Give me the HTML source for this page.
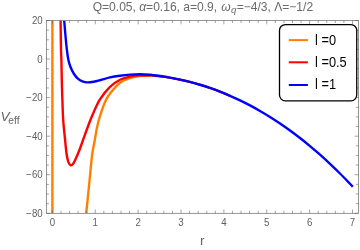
<!DOCTYPE html>
<html><head><meta charset="utf-8"><style>
html,body{margin:0;padding:0;background:#fff;}
svg{display:block;font-family:"Liberation Sans",sans-serif;will-change:transform;}
</style></head><body>
<svg width="360" height="250" viewBox="0 0 360 250">
<rect width="360" height="250" fill="#fff"/>
<defs><clipPath id="c"><rect x="46.4" y="20.5" width="312.0" height="192.8"/></clipPath></defs>
<g clip-path="url(#c)" fill="none" stroke-width="2.4" stroke-linejoin="round">
<path d="M52.4,10 L52.4,220" stroke="#ff8000"/>
<path d="M140.00,75.90 C141.67,75.85 146.67,75.50 150.00,75.60 C153.33,75.70 156.67,76.11 160.00,76.48 C163.33,76.85 166.67,77.29 170.00,77.82 C173.33,78.35 176.67,78.98 180.00,79.68 C183.33,80.38 186.67,81.16 190.00,82.01 C193.33,82.86 196.67,83.79 200.00,84.78 C203.33,85.78 206.67,86.86 210.00,88.01 C213.33,89.16 216.67,90.38 220.00,91.68 C223.33,92.98 228.33,95.11 230.00,95.80" stroke="#ff8000" stroke-width="2.1"/>
<path d="M86.20,213.30 C86.48,210.58 87.33,202.55 87.90,197.00 C88.47,191.45 88.90,187.00 89.60,180.00 C90.30,173.00 91.27,161.50 92.10,155.00 C92.93,148.50 93.77,145.67 94.60,141.00 C95.43,136.33 96.20,131.15 97.10,127.00 C98.00,122.85 98.68,120.27 100.00,116.10 C101.32,111.93 103.33,105.75 105.00,102.00 C106.67,98.25 107.50,96.82 110.00,93.60 C112.50,90.38 116.67,85.27 120.00,82.70 C123.33,80.13 126.67,79.33 130.00,78.20 C133.33,77.07 136.67,76.33 140.00,75.90 C143.33,75.47 148.33,75.65 150.00,75.60" stroke="#ff8000"/>
<path d="M140.00,75.30 C141.67,75.28 146.67,75.04 150.00,75.20 C153.33,75.36 156.67,75.85 160.00,76.27 C163.33,76.69 166.67,77.16 170.00,77.72 C173.33,78.28 176.67,78.92 180.00,79.63 C183.33,80.34 186.67,81.12 190.00,81.98 C193.33,82.84 196.67,83.77 200.00,84.77 C203.33,85.77 206.67,86.85 210.00,88.00 C213.33,89.15 216.67,90.37 220.00,91.67 C223.33,92.97 228.33,95.11 230.00,95.80" stroke="#ff0000" stroke-width="2.1"/>
<path d="M60.60,20.50 C60.67,25.42 60.87,43.42 61.00,50.00 C61.13,56.58 61.25,54.17 61.40,60.00 C61.55,65.83 61.73,78.33 61.90,85.00 C62.07,91.67 62.18,94.17 62.40,100.00 C62.62,105.83 62.73,113.17 63.20,120.00 C63.67,126.83 64.63,135.33 65.20,141.00 C65.77,146.67 66.08,150.53 66.60,154.00 C67.12,157.47 67.60,159.92 68.30,161.80 C69.00,163.68 69.92,165.07 70.80,165.30 C71.68,165.53 72.50,164.92 73.60,163.20 C74.70,161.48 76.30,157.53 77.40,155.00 C78.50,152.47 78.87,151.60 80.20,148.00 C81.53,144.40 83.70,138.07 85.40,133.40 C87.10,128.73 89.00,123.58 90.40,120.00 C91.80,116.42 92.20,115.33 93.80,111.90 C95.40,108.47 97.30,103.57 100.00,99.40 C102.70,95.23 106.67,90.17 110.00,86.90 C113.33,83.63 116.67,81.53 120.00,79.80 C123.33,78.07 126.67,77.30 130.00,76.55 C133.33,75.80 136.67,75.52 140.00,75.30 C143.33,75.08 148.33,75.22 150.00,75.20" stroke="#ff0000"/>
<path d="M64.20,20.50 C64.42,23.08 65.05,31.08 65.50,36.00 C65.95,40.92 66.42,46.00 66.90,50.00 C67.38,54.00 67.80,57.17 68.40,60.00 C69.00,62.83 69.57,64.67 70.50,67.00 C71.43,69.33 72.72,72.02 74.00,74.00 C75.28,75.98 76.80,77.68 78.20,78.90 C79.60,80.12 80.88,80.72 82.40,81.30 C83.92,81.88 85.43,82.33 87.30,82.40 C89.17,82.47 91.38,82.10 93.60,81.70 C95.82,81.30 97.87,80.72 100.60,80.00 C103.33,79.28 106.77,78.12 110.00,77.40 C113.23,76.68 116.67,76.16 120.00,75.70 C123.33,75.24 126.67,74.89 130.00,74.65 C133.33,74.41 136.67,74.24 140.00,74.25 C143.33,74.26 146.67,74.43 150.00,74.72 C153.33,75.01 156.67,75.53 160.00,76.01 C163.33,76.49 166.67,76.99 170.00,77.58 C173.33,78.17 176.67,78.82 180.00,79.55 C183.33,80.27 186.67,81.07 190.00,81.93 C193.33,82.80 196.67,83.73 200.00,84.74 C203.33,85.75 206.67,86.83 210.00,87.98 C213.33,89.13 216.67,90.36 220.00,91.66 C223.33,92.96 226.67,94.34 230.00,95.79 C233.33,97.24 236.67,98.77 240.00,100.38 C243.33,101.99 246.67,103.67 250.00,105.43 C253.33,107.20 256.67,109.04 260.00,110.97 C263.33,112.89 266.67,114.90 270.00,116.99 C273.33,119.08 276.67,121.25 280.00,123.51 C283.33,125.76 286.67,128.10 290.00,130.53 C293.33,132.95 296.67,135.46 300.00,138.06 C303.33,140.66 306.67,143.34 310.00,146.12 C313.33,148.89 316.67,151.75 320.00,154.71 C323.33,157.66 326.67,160.70 330.00,163.84 C333.33,166.97 336.67,170.20 340.00,173.52 C343.33,176.84 347.87,181.56 350.00,183.76 C352.13,185.96 352.33,186.23 352.80,186.73" stroke="#0000ff"/>
</g>
<rect x="46.4" y="20.5" width="312.0" height="192.8" fill="none" stroke="#6a6a6a" stroke-width="0.7"/>
<path d="M52.40,213.30 L52.40,209.50 M52.40,20.50 L52.40,24.30 M60.97,213.30 L60.97,210.80 M60.97,20.50 L60.97,23.00 M69.55,213.30 L69.55,210.80 M69.55,20.50 L69.55,23.00 M78.12,213.30 L78.12,210.80 M78.12,20.50 L78.12,23.00 M86.70,213.30 L86.70,210.80 M86.70,20.50 L86.70,23.00 M95.27,213.30 L95.27,209.50 M95.27,20.50 L95.27,24.30 M103.84,213.30 L103.84,210.80 M103.84,20.50 L103.84,23.00 M112.42,213.30 L112.42,210.80 M112.42,20.50 L112.42,23.00 M120.99,213.30 L120.99,210.80 M120.99,20.50 L120.99,23.00 M129.57,213.30 L129.57,210.80 M129.57,20.50 L129.57,23.00 M138.14,213.30 L138.14,209.50 M138.14,20.50 L138.14,24.30 M146.71,213.30 L146.71,210.80 M146.71,20.50 L146.71,23.00 M155.29,213.30 L155.29,210.80 M155.29,20.50 L155.29,23.00 M163.86,213.30 L163.86,210.80 M163.86,20.50 L163.86,23.00 M172.44,213.30 L172.44,210.80 M172.44,20.50 L172.44,23.00 M181.01,213.30 L181.01,209.50 M181.01,20.50 L181.01,24.30 M189.58,213.30 L189.58,210.80 M189.58,20.50 L189.58,23.00 M198.16,213.30 L198.16,210.80 M198.16,20.50 L198.16,23.00 M206.73,213.30 L206.73,210.80 M206.73,20.50 L206.73,23.00 M215.31,213.30 L215.31,210.80 M215.31,20.50 L215.31,23.00 M223.88,213.30 L223.88,209.50 M223.88,20.50 L223.88,24.30 M232.45,213.30 L232.45,210.80 M232.45,20.50 L232.45,23.00 M241.03,213.30 L241.03,210.80 M241.03,20.50 L241.03,23.00 M249.60,213.30 L249.60,210.80 M249.60,20.50 L249.60,23.00 M258.18,213.30 L258.18,210.80 M258.18,20.50 L258.18,23.00 M266.75,213.30 L266.75,209.50 M266.75,20.50 L266.75,24.30 M275.32,213.30 L275.32,210.80 M275.32,20.50 L275.32,23.00 M283.90,213.30 L283.90,210.80 M283.90,20.50 L283.90,23.00 M292.47,213.30 L292.47,210.80 M292.47,20.50 L292.47,23.00 M301.05,213.30 L301.05,210.80 M301.05,20.50 L301.05,23.00 M309.62,213.30 L309.62,209.50 M309.62,20.50 L309.62,24.30 M318.19,213.30 L318.19,210.80 M318.19,20.50 L318.19,23.00 M326.77,213.30 L326.77,210.80 M326.77,20.50 L326.77,23.00 M335.34,213.30 L335.34,210.80 M335.34,20.50 L335.34,23.00 M343.92,213.30 L343.92,210.80 M343.92,20.50 L343.92,23.00 M352.49,213.30 L352.49,209.50 M352.49,20.50 L352.49,24.30 M46.40,20.50 L50.20,20.50 M358.40,20.50 L354.60,20.50 M46.40,30.14 L48.90,30.14 M358.40,30.14 L355.90,30.14 M46.40,39.78 L48.90,39.78 M358.40,39.78 L355.90,39.78 M46.40,49.42 L48.90,49.42 M358.40,49.42 L355.90,49.42 M46.40,59.06 L50.20,59.06 M358.40,59.06 L354.60,59.06 M46.40,68.70 L48.90,68.70 M358.40,68.70 L355.90,68.70 M46.40,78.34 L48.90,78.34 M358.40,78.34 L355.90,78.34 M46.40,87.98 L48.90,87.98 M358.40,87.98 L355.90,87.98 M46.40,97.62 L50.20,97.62 M358.40,97.62 L354.60,97.62 M46.40,107.26 L48.90,107.26 M358.40,107.26 L355.90,107.26 M46.40,116.90 L48.90,116.90 M358.40,116.90 L355.90,116.90 M46.40,126.54 L48.90,126.54 M358.40,126.54 L355.90,126.54 M46.40,136.18 L50.20,136.18 M358.40,136.18 L354.60,136.18 M46.40,145.82 L48.90,145.82 M358.40,145.82 L355.90,145.82 M46.40,155.46 L48.90,155.46 M358.40,155.46 L355.90,155.46 M46.40,165.10 L48.90,165.10 M358.40,165.10 L355.90,165.10 M46.40,174.74 L50.20,174.74 M358.40,174.74 L354.60,174.74 M46.40,184.38 L48.90,184.38 M358.40,184.38 L355.90,184.38 M46.40,194.02 L48.90,194.02 M358.40,194.02 L355.90,194.02 M46.40,203.66 L48.90,203.66 M358.40,203.66 L355.90,203.66 M46.40,213.30 L50.20,213.30 M358.40,213.30 L354.60,213.30" stroke="#666" stroke-width="0.6" fill="none"/>
<g font-size="10.4" fill="#606060" transform="scale(0.93,1)"><text x="56.34" y="225.8" text-anchor="middle">0</text><text x="102.44" y="225.8" text-anchor="middle">1</text><text x="148.54" y="225.8" text-anchor="middle">2</text><text x="194.63" y="225.8" text-anchor="middle">3</text><text x="240.73" y="225.8" text-anchor="middle">4</text><text x="286.83" y="225.8" text-anchor="middle">5</text><text x="332.92" y="225.8" text-anchor="middle">6</text><text x="379.02" y="225.8" text-anchor="middle">7</text><text x="45.91" y="24.20" text-anchor="end">20</text><text x="45.91" y="62.76" text-anchor="end">0</text><text x="45.91" y="101.32" text-anchor="end">−<tspan dx='0.7'>20</tspan></text><text x="45.91" y="139.88" text-anchor="end">−<tspan dx='0.7'>40</tspan></text><text x="45.91" y="178.44" text-anchor="end">−<tspan dx='0.7'>60</tspan></text><text x="45.91" y="217.00" text-anchor="end">−<tspan dx='0.7'>80</tspan></text></g>
<text x="202.9" y="10.8" font-size="12.05" fill="#6a6a6a" text-anchor="middle">Q=0.05, <tspan font-style="italic">α</tspan>=0.16, a=0.9, <tspan font-style="italic" dx="0.7">ω</tspan><tspan font-style="italic" font-size="9.6" dy="2.6" dx="0.5">q</tspan><tspan dy="-2.6" dx="0.3">=−4/3, Λ=−1/2</tspan></text>
<text x="0.4" y="121.4" font-size="13.6" fill="#666"><tspan font-style="italic">V</tspan><tspan font-size="10.3" dy="2.6" dx="-1.2">eff</tspan></text>
<text x="202.4" y="245.4" font-size="13.7" fill="#666" text-anchor="middle">r</text>
<rect x="279.5" y="24.55" width="77.25" height="76.25" rx="5.8" ry="5.8" fill="#fff" stroke="#000" stroke-width="1.3"/>
<g stroke-width="2" fill="none">
<path d="M288.8,40.1 L307.9,40.1" stroke="#ff8000"/>
<path d="M288.8,62.3 L307.9,62.3" stroke="#ff0000"/>
<path d="M288.8,85.0 L307.9,85.0" stroke="#0000ff"/>
</g>
<g font-size="13" fill="#000" transform="scale(0.985,1.055)">
<text x="319.90" y="42.27">l =0</text>
<text x="319.90" y="63.41">l =0.5</text>
<text x="319.90" y="84.74">l =1</text>
</g>
</svg>
</body></html>
